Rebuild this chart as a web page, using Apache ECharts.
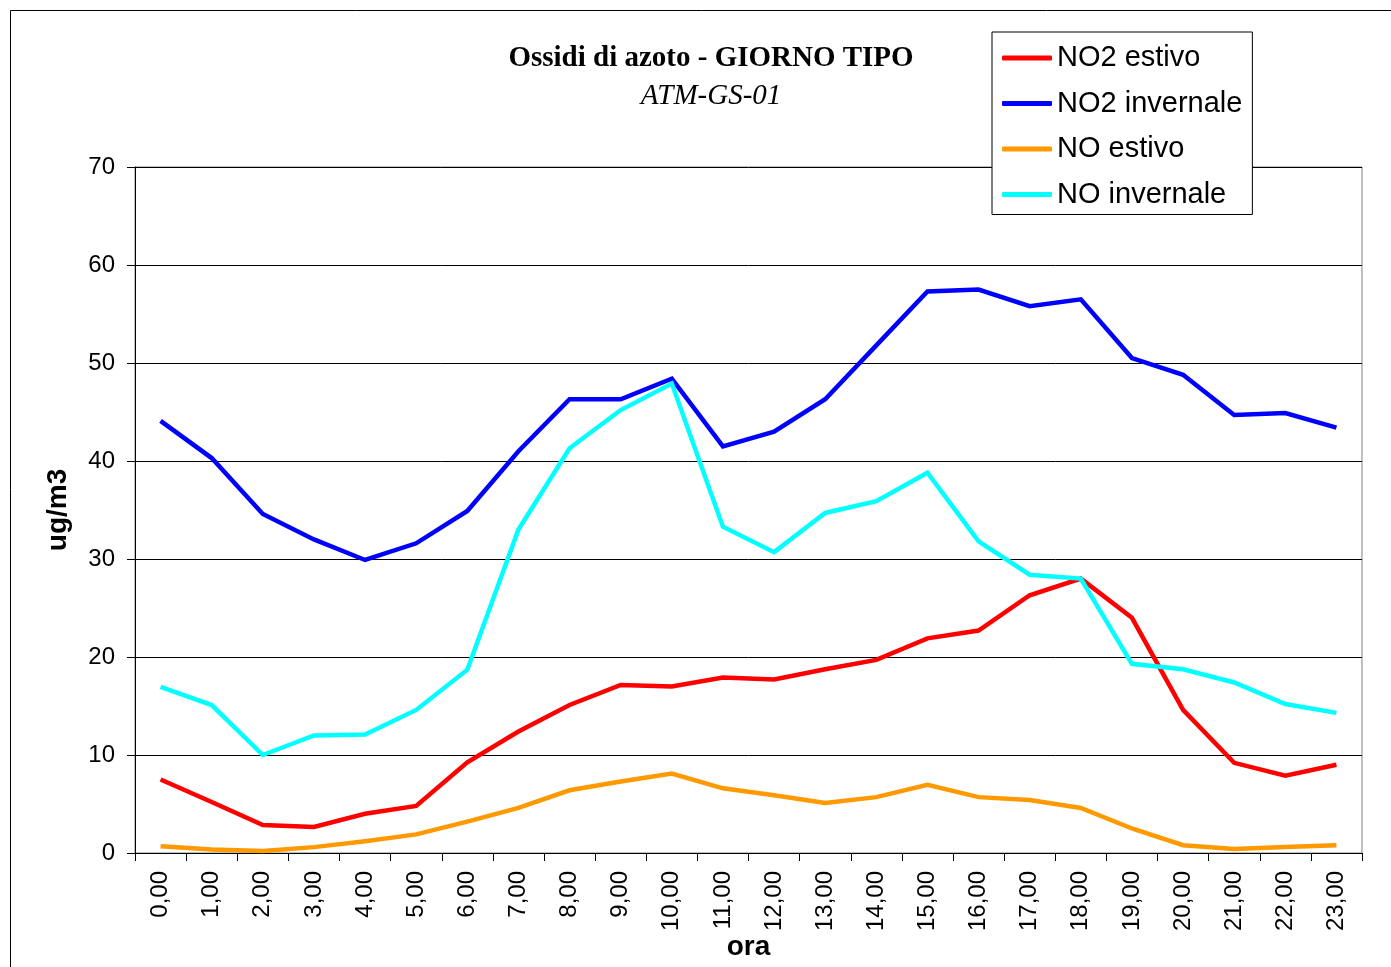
<!DOCTYPE html>
<html>
<head>
<meta charset="utf-8">
<script src="https://cdn.jsdelivr.net/npm/echarts@6/dist/echarts.min.js"></script>
<style>
  html, body { margin: 0; padding: 0; background: #fff; }
  #chart { width: 1391px; height: 967px; }
</style>
</head>
<body>
<div id="chart"></div>
<script>
const hours = ["0,00", "1,00", "2,00", "3,00", "4,00", "5,00", "6,00", "7,00", "8,00", "9,00", "10,00", "11,00",
  "12,00", "13,00", "14,00", "15,00", "16,00", "17,00", "18,00", "19,00", "20,00", "21,00", "22,00", "23,00"];
const no2Estivo = [7.5, 5.2, 2.85, 2.65, 4.0, 4.8, 9.25, 12.4, 15.1, 17.15, 17.0, 17.9,
  17.7, 18.75, 19.7, 21.9, 22.7, 26.3, 28.0, 24.0, 14.6, 9.2, 7.9, 9.0];
const no2Invernale = [44.1, 40.3, 34.6, 32.0, 29.9, 31.6, 34.9, 41.0, 46.3, 46.3, 48.4, 41.5,
  43.0, 46.3, 51.8, 57.3, 57.5, 55.8, 56.5, 50.5, 48.8, 44.7, 44.9, 43.4];
const noEstivo = [0.7, 0.35, 0.2, 0.6, 1.2, 1.9, 3.2, 4.6, 6.4, 7.3, 8.1, 6.6,
  5.9, 5.1, 5.7, 6.95, 5.7, 5.4, 4.6, 2.5, 0.8, 0.4, 0.6, 0.8];
const noInvernale = [16.95, 15.1, 10.0, 12.0, 12.1, 14.6, 18.7, 33.0, 41.3, 45.2, 47.9, 33.3,
  30.7, 34.7, 35.9, 38.8, 31.8, 28.4, 28.0, 19.3, 18.75, 17.4, 15.2, 14.3];

const chart = echarts.init(document.getElementById("chart"));

// serie: nome, colore, dati
const mkLine = (name, color, data) => ({
  name: name,
  type: "line",
  data: data,
  symbol: "none",
  smooth: false,
  lineStyle: { color: color, width: 4.5, join: "miter" },
  itemStyle: { color: color },
  z: 3,
});

const option = {
  backgroundColor: "#fff",
  animation: false,
  graphic: [
    {
      type: "rect",
      shape: { x: 10.5, y: 10.5, width: 1400, height: 1000 },
      style: { fill: null, stroke: "#000", lineWidth: 1 },
      silent: true,
    },
  ],
  title: [
    {
      text: "Ossidi di azoto - GIORNO TIPO",
      left: 706,
      top: 39,
      textAlign: "center",
      textStyle: { fontFamily: "Liberation Serif", fontWeight: "bold", fontSize: 29, color: "#000" },
    },
    {
      text: "ATM-GS-01",
      left: 706,
      top: 77,
      textAlign: "center",
      textStyle: { fontFamily: "Liberation Serif", fontStyle: "italic", fontWeight: "normal", fontSize: 29, color: "#000" },
    },
  ],
  legend: {
    orient: "vertical",
    left: 992,
    top: 32,
    padding: [11, 10, 5, 10],
    backgroundColor: "#fff",
    borderColor: "#000",
    borderWidth: 1,
    itemWidth: 50,
    itemHeight: 5,
    itemGap: 15.5,
    icon: "roundRect",
    z: 10,
    data: ["NO2 estivo", "NO2 invernale", "NO estivo", "NO invernale"],
    textStyle: { fontFamily: "Liberation Sans", fontSize: 29, lineHeight: 30, color: "#000" },
  },
  grid: {
    left: 135,
    top: 167,
    width: 1227,
    height: 686,
    outerBoundsMode: "none",
    show: true,
    borderColor: "#808080",
    borderWidth: 1,
    backgroundColor: "transparent",
  },
  xAxis: {
    type: "category",
    data: hours,
    boundaryGap: true,
    name: "ora",
    nameLocation: "middle",
    nameGap: 80,
    nameMoveOverlap: false,
    nameTextStyle: { fontFamily: "Liberation Sans", fontWeight: "bold", fontSize: 28, color: "#000" },
    axisLine: { lineStyle: { color: "#000", width: 1 } },
    axisTick: { show: true, length: 8, lineStyle: { color: "#000" } },
    axisLabel: {
      rotate: 90,
      margin: 18,
      interval: 0,
      fontFamily: "Liberation Sans",
      fontSize: 24,
      color: "#000",
    },
    splitLine: { show: false },
  },
  yAxis: {
    type: "value",
    min: 0,
    max: 70,
    interval: 10,
    name: "ug/m3",
    nameLocation: "middle",
    nameGap: 63,
    nameRotate: 90,
    nameTextStyle: { fontFamily: "Liberation Sans", fontWeight: "bold", fontSize: 28, color: "#000" },
    axisLine: { show: true, lineStyle: { color: "#000", width: 1 } },
    axisTick: { show: true, length: 8, lineStyle: { color: "#000" } },
    axisLabel: { margin: 20, fontFamily: "Liberation Sans", fontSize: 24, color: "#000" },
    splitLine: { show: true, lineStyle: { color: "#000", width: 1 } },
  },
  series: [
    mkLine("NO2 estivo", "#FF0000", no2Estivo),
    mkLine("NO2 invernale", "#0000FF", no2Invernale),
    mkLine("NO estivo", "#FF9900", noEstivo),
    mkLine("NO invernale", "#00FFFF", noInvernale),
  ],
};

chart.setOption(option);
</script>
</body>
</html>
